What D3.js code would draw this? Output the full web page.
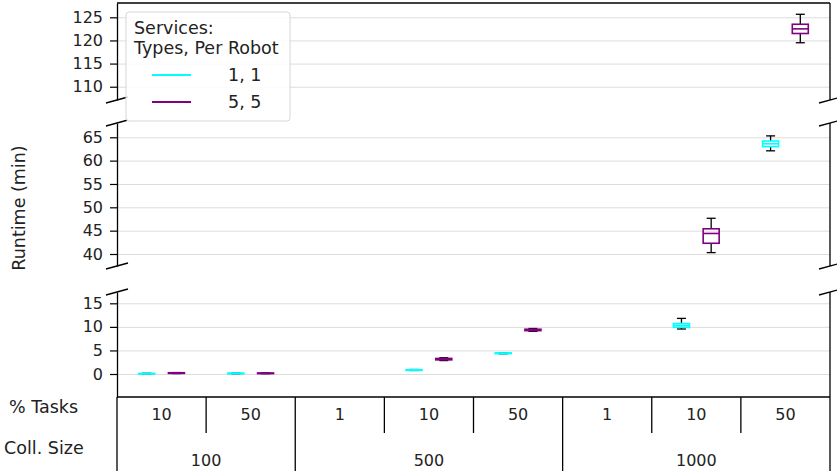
<!doctype html>
<html lang="en">
<head>
  <meta charset="utf-8">
  <title>Runtime</title>
  <style>
    body { margin: 0; background: #fff; }
    text { font-family: "DejaVu Sans", sans-serif; fill: #222; }
  </style>
</head>
<body>
<svg id="chart" width="837" height="471" viewBox="0 0 837 471"></svg>

<script src="https://d3js.org/d3.v7.min.js"></script>
<script type="text/javascript">

// x categories
const pctTasks = ['10', '50', '1', '10', '50', '1', '10', '50'];
const collSizes = ['100', '100', '500', '500', '500', '1000', '1000', '1000'];

// series: [min, q1, median, q3, max] per column, null = no run
const seriesNames = ['1, 1', '5, 5'];
const seriesColors = ['#00ffff', '#800080'];
const stats11 = [
  [0.0, 0.02, 0.06, 0.12, 0.15],
  [0.05, 0.08, 0.12, 0.18, 0.2],
  null,
  [0.75, 0.78, 0.85, 0.92, 0.95],
  [4.3, 4.33, 4.4, 4.47, 4.5],
  null,
  [9.55, 9.9, 10.3, 10.7, 11.8],
  [62.1, 63.0, 63.6, 64.2, 65.3],
];
const stats55 = [
  [0.1, 0.13, 0.2, 0.27, 0.3],
  [0.08, 0.1, 0.15, 0.2, 0.22],
  null,
  [2.85, 3.0, 3.15, 3.3, 3.45],
  [9.05, 9.2, 9.35, 9.5, 9.65],
  null,
  [40.3, 42.3, 44.4, 45.4, 47.65],
  [119.5, 121.5, 122.5, 123.5, 125.65],
];
const allStats = [stats11, stats55];

// broken y axis pieces
const topTicks = [110, 115, 120, 125];
const midTicks = [40, 45, 50, 55, 60, 65];
const botTicks = [0, 5, 10, 15];

const svg = d3.select('#chart');
const left = 117, right = 830;

const panels = [
  { domain: [107.13, 128.09], range: [100, 3], ticks: topTicks, breakTop: false, breakBottom: true },
  { domain: [37.43, 68.06], range: [266, 123], ticks: midTicks, breakTop: true, breakBottom: true },
  { domain: [-4.88, 17.4], range: [397, 292], ticks: botTicks, breakTop: true, breakBottom: false },
];

const x = d3.scaleBand().domain(d3.range(pctTasks.length)).range([left, right]).padding(0);
const bw = x.bandwidth();
const xs = d3.scalePoint().domain(seriesNames).range([bw / 3, 2 * bw / 3]);

const boxW = 16, capW = 9;

panels.forEach((p, pi) => {
  const y = d3.scaleLinear().domain(p.domain).range(p.range);
  const top = p.range[1], bot = p.range[0];

  svg.append('clipPath').attr('id', 'clip' + pi)
    .append('rect').attr('x', left).attr('y', top).attr('width', right - left).attr('height', bot - top);

  // grid
  svg.append('g')
    .attr('transform', `translate(${left},0)`)
    .call(d3.axisLeft(y).tickValues(p.ticks).tickSize(-(right - left)).tickFormat(''))
    .call(g => g.select('.domain').remove())
    .call(g => g.selectAll('line').attr('stroke', '#dcdcdc').attr('stroke-width', 1));

  const g = svg.append('g').attr('clip-path', `url(#clip${pi})`);

  allStats.forEach((stats, si) => {
    stats.forEach((s, i) => {
      if (!s) return;
      if (s[2] < p.domain[0] || s[2] > p.domain[1]) return;
      const cx = x(i) + xs(seriesNames[si]);
      // whiskers + caps
      g.append('line').attr('x1', cx).attr('x2', cx).attr('y1', y(s[0])).attr('y2', y(s[1]))
        .attr('stroke', '#000').attr('stroke-width', 1.3);
      g.append('line').attr('x1', cx).attr('x2', cx).attr('y1', y(s[3])).attr('y2', y(s[4]))
        .attr('stroke', '#000').attr('stroke-width', 1.3);
      [s[0], s[4]].forEach(v => {
        g.append('line').attr('x1', cx - capW / 2).attr('x2', cx + capW / 2).attr('y1', y(v)).attr('y2', y(v))
          .attr('stroke', '#000').attr('stroke-width', 1.3);
      });
      // box
      g.append('rect')
        .attr('x', cx - boxW / 2).attr('width', boxW)
        .attr('y', y(s[3])).attr('height', Math.max(0.5, y(s[1]) - y(s[3])))
        .attr('fill', 'none').attr('stroke', seriesColors[si]).attr('stroke-width', 1.6);
      g.append('line').attr('x1', cx - boxW / 2).attr('x2', cx + boxW / 2).attr('y1', y(s[2])).attr('y2', y(s[2]))
        .attr('stroke', seriesColors[si]).attr('stroke-width', 1.6);
    });
  });

  // left axis
  const ax = svg.append('g')
    .attr('transform', `translate(${left},0)`)
    .call(d3.axisLeft(y).tickValues(p.ticks).tickSize(7).tickSizeOuter(0).tickPadding(7));
  ax.select('.domain').attr('stroke', '#000').attr('stroke-width', 1.3);
  ax.selectAll('.tick line').attr('stroke', '#000').attr('stroke-width', 1.2);
  ax.selectAll('.tick text').style('font-size', '16px').attr('fill', '#222');

  // right spine
  svg.append('line').attr('x1', right).attr('x2', right).attr('y1', top).attr('y2', bot)
    .attr('stroke', '#000').attr('stroke-width', 1.3);

  if (!p.breakTop) {
    svg.append('line').attr('x1', left).attr('x2', right).attr('y1', top).attr('y2', top)
      .attr('stroke', '#000').attr('stroke-width', 1.3);
  }

  // break marks
  const marks = [];
  if (p.breakTop) marks.push(top);
  if (p.breakBottom) marks.push(bot);
  marks.forEach(my => {
    [left, right].forEach(mx => {
      svg.append('line').attr('x1', mx - 11).attr('y1', my + 3).attr('x2', mx + 11).attr('y2', my - 3)
        .attr('stroke', '#000').attr('stroke-width', 1.3);
    });
  });
});

// x axis table
const axisY = 397;
svg.append('line').attr('x1', left).attr('x2', right).attr('y1', axisY).attr('y2', axisY)
  .attr('stroke', '#000').attr('stroke-width', 1.3);

pctTasks.forEach((t, i) => {
  svg.append('text').attr('x', x(i) + bw / 2).attr('y', 414).attr('dy', '0.35em')
    .attr('text-anchor', 'middle').style('font-size', '16px').text(t);
});

// boundaries
for (let i = 0; i <= pctTasks.length; i++) {
  const bx = i === pctTasks.length ? right : x(i);
  const isGroup = i === 0 || i === pctTasks.length || collSizes[i] !== collSizes[i - 1];
  svg.append('line').attr('x1', bx).attr('x2', bx).attr('y1', axisY).attr('y2', isGroup ? 471 : 433)
    .attr('stroke', '#000').attr('stroke-width', 1.3);
}

const groups = [];
collSizes.forEach((c, i) => {
  if (!groups.length || groups[groups.length - 1].name !== c) groups.push({ name: c, start: i, end: i });
  else groups[groups.length - 1].end = i;
});
groups.forEach(gr => {
  const cx = (x(gr.start) + x(gr.end) + bw) / 2;
  svg.append('text').attr('x', cx).attr('y', 460).attr('dy', '0.35em')
    .attr('text-anchor', 'middle').style('font-size', '16px').text(gr.name);
});

svg.append('text').attr('x', 9).attr('y', 407).attr('dy', '0.35em').style('font-size', '17.5px').text('% Tasks');
svg.append('text').attr('x', 4).attr('y', 448).attr('dy', '0.35em').style('font-size', '17.5px').text('Coll. Size');

// y label
svg.append('text').attr('transform', 'translate(19,208) rotate(-90)').attr('dy', '0.35em')
  .attr('text-anchor', 'middle').style('font-size', '17.5px').text('Runtime (min)');

// legend
const leg = svg.append('g');
leg.append('rect').attr('x', 126).attr('y', 12).attr('width', 164).attr('height', 109).attr('rx', 3)
  .attr('fill', '#fff').attr('fill-opacity', 0.85).attr('stroke', '#d6d6d6');
leg.append('text').attr('x', 134).attr('y', 28).attr('dy', '0.35em').style('font-size', '17.5px').text('Services:');
leg.append('text').attr('x', 134).attr('y', 48).attr('dy', '0.35em').style('font-size', '17.5px').text('Types, Per Robot');
seriesNames.forEach((n, i) => {
  const ly = 75 + i * 27;
  leg.append('line').attr('x1', 152).attr('x2', 191).attr('y1', ly).attr('y2', ly)
    .attr('stroke', seriesColors[i]).attr('stroke-width', 2.2);
  leg.append('text').attr('x', 228).attr('y', ly).attr('dy', '0.35em').style('font-size', '17.5px').text(n);
});

</script>
</body>
</html>
